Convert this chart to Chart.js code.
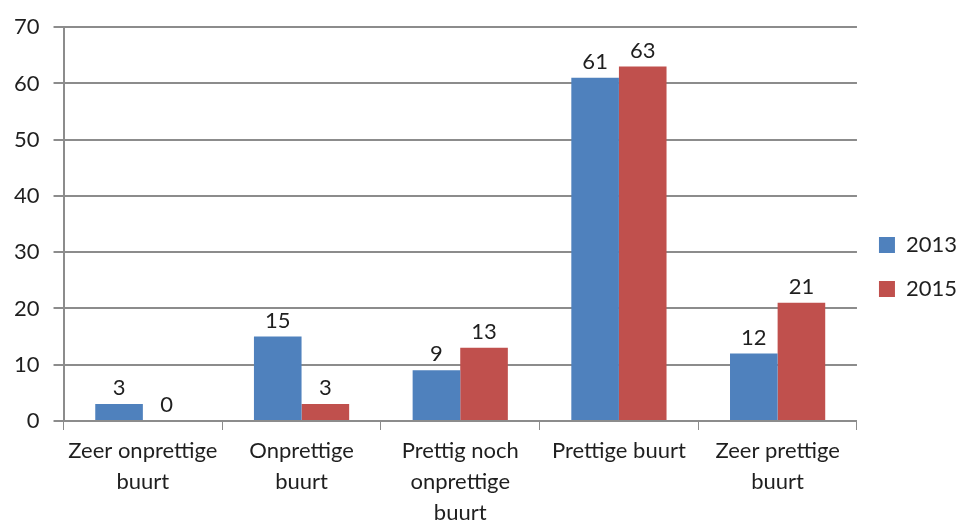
<!DOCTYPE html>
<html>
<head>
<meta charset="utf-8">
<script src="https://cdn.jsdelivr.net/npm/chart.js@4"></script>
<style>
  html, body { margin: 0; padding: 0; background: #fff; }
  #wrap { width: 962px; height: 520px; }
</style>
</head>
<body>
<div id="wrap"><canvas id="buurtChart" width="962" height="520"></canvas></div>
<script>
const categories = [
    ['Zeer onprettige', 'buurt'],
    ['Onprettige', 'buurt'],
    ['Prettig noch', 'onprettige', 'buurt'],
    'Prettige buurt',
    ['Zeer prettige', 'buurt'],
];
const values2013 = [3, 15, 9, 61, 12];
const values2015 = [0, 3, 13, 63, 21];
const yTicks = [0, 10, 20, 30, 40, 50, 60, 70];

const textColor = '#1f1f1f';
const gridColor = '#8c8c8c';
const fontSize = 22;

// draws the value above every bar
const barLabels = {
    id: 'barLabels',
    afterDatasetsDraw(chart) {
        const ctx = chart.ctx;
        ctx.save();
        ctx.font = fontSize + 'px Lato';
        ctx.fillStyle = textColor;
        ctx.textAlign = 'center';
        ctx.textBaseline = 'bottom';
        chart.data.datasets.forEach((ds, i) => {
            chart.getDatasetMeta(i).data.forEach((bar, j) => {
                ctx.fillText(ds.data[j], bar.x, bar.y - 5);
            });
        });
        ctx.restore();
    },
};

new Chart(document.getElementById('buurtChart'), {
    type: 'bar',
    data: {
        labels: categories,
        datasets: [
            {
                label: '2013',
                data: values2013,
                backgroundColor: '#4F81BD',
                categoryPercentage: 0.6,
                barPercentage: 1,
            },
            {
                label: '2015',
                data: values2015,
                backgroundColor: '#C0504D',
                categoryPercentage: 0.6,
                barPercentage: 1,
            },
        ],
    },
    options: {
        responsive: false,
        animation: false,
        layout: { padding: { top: 14, left: 0, right: -5, bottom: 0 } },
        scales: {
            x: {
                // the bottom labels run past the canvas edge in the original
                afterFit(axis) {
                    axis.height = 99;
                },
                grid: {
                    display: true,
                    drawOnChartArea: false,
                    offset: true,
                    color: gridColor,
                    tickLength: 9,
                },
                border: { color: gridColor, width: 2 },
                ticks: {
                    color: textColor,
                    font: { family: 'Lato', size: fontSize, lineHeight: 1.4 },
                    maxRotation: 0,
                    autoSkip: false,
                    padding: 6,
                },
            },
            y: {
                min: 0,
                max: 70,
                afterBuildTicks(axis) {
                    axis.ticks = yTicks.map(v => ({ value: v }));
                },
                grid: { color: gridColor, lineWidth: 2, tickLength: 10 },
                border: { color: gridColor, width: 2 },
                ticks: {
                    color: textColor,
                    font: { family: 'Lato', size: fontSize },
                    padding: 14,
                },
            },
        },
        plugins: {
            legend: {
                position: 'right',
                align: 'center',
                labels: {
                    color: textColor,
                    font: { family: 'Lato', size: fontSize },
                    boxWidth: 16,
                    boxHeight: 16,
                    padding: 22,
                },
            },
            tooltip: { enabled: false },
        },
    },
    plugins: [barLabels],
});
</script>
</body>
</html>
